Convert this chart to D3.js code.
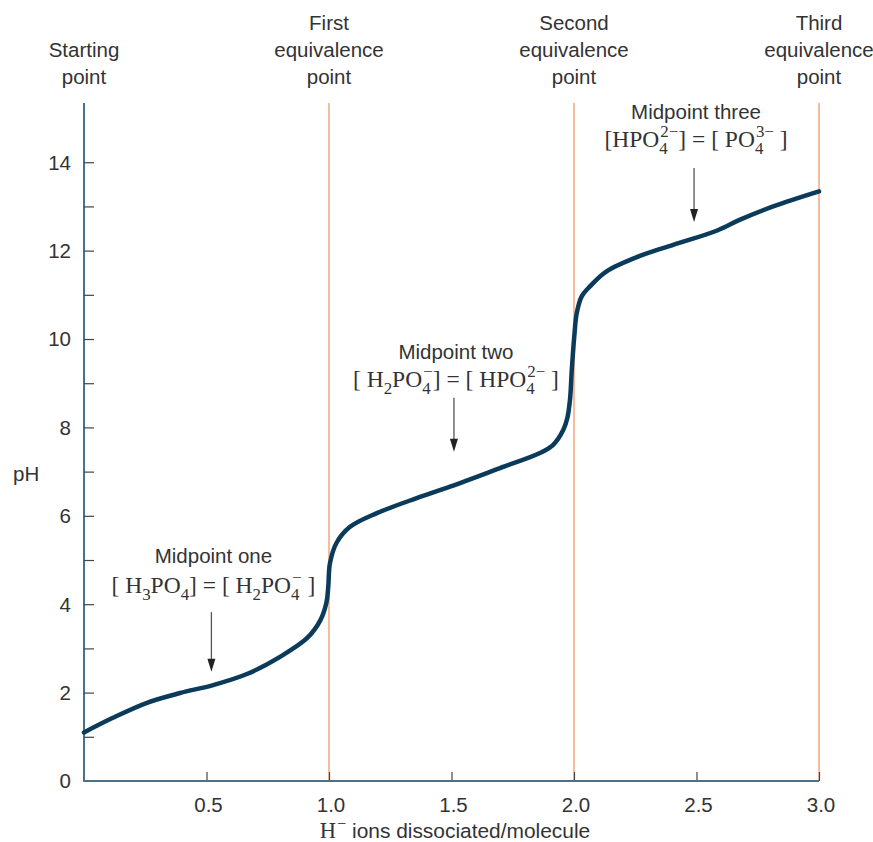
<!DOCTYPE html>
<html><head><meta charset="utf-8">
<script src="https://cdn.jsdelivr.net/npm/d3@7"></script>
<style>body{margin:0;background:#fff;} svg{display:block;}</style>
</head><body>
<svg id="chart" width="873" height="842"></svg>
<script>
// ---- data ----
const dissociated = [0, 0.118, 0.257, 0.392, 0.527, 0.665, 0.800, 0.910, 0.965, 0.990,
  0.997, 1.004, 1.031, 1.086, 1.195, 1.358, 1.494, 1.698, 1.861, 1.914,
  1.956, 1.973, 1.984, 1.991, 2.001, 2.011, 2.031, 2.065, 2.133, 2.269,
  2.405, 2.582, 2.678, 2.813, 3.0];
const pH = [1.1, 1.43, 1.77, 1.99, 2.17, 2.42, 2.81, 3.23, 3.64, 4.05,
  4.4, 4.93, 5.39, 5.75, 6.06, 6.4, 6.66, 7.08, 7.42, 7.6,
  7.94, 8.22, 8.65, 9.3, 10.05, 10.58, 10.96, 11.19, 11.53, 11.88,
  12.13, 12.45, 12.7, 13.0, 13.34];
const equivalencePoints = [1, 2, 3];
const topLabels = [["Starting", "point"], ["First", "equivalence", "point"], ["Second", "equivalence", "point"], ["Third", "equivalence", "point"]];
const topLabelX = [0, 1, 2, 3];
const xTickValues = [0.5, 1.0, 1.5, 2.0, 2.5, 3.0];
const yTickValues = [1, 2, 3, 4, 5, 6, 7, 8, 9, 10, 11, 12, 13, 14];
const yLabelValues = [0, 2, 4, 6, 8, 10, 12, 14];
const midpointTitles = ["Midpoint one", "Midpoint two", "Midpoint three"];
const midpointX = [0.52, 1.51, 2.49];
const arrowFromPH = [3.82, 8.67, 13.87];
const arrowToPH = [2.47, 7.45, 12.65];
const titlePH = [4.93, 9.55, 14.98];
const formulaPH = [4.25, 8.92, 14.35];
const formulas = [
  [{n:"[ H"},{sub:"3"},{n:"PO"},{sub:"4"},{n:"] = [ H"},{sub:"2"},{n:"PO"},{sub:"4",sup:"−"},{n:" ]"}],
  [{n:"[ H"},{sub:"2"},{n:"PO"},{sub:"4",sup:"−"},{n:"] = [ HPO"},{sub:"4",sup:"2−"},{n:" ]"}],
  [{n:"[HPO"},{sub:"4",sup:"2−"},{n:"] = [ PO"},{sub:"4",sup:"3−"},{n:" ]"}]
];
const xTitle = [{n:"H", fam:"serif"},{sup:"−", fam:"serif"},{n:" ions dissociated/molecule", fam:"sans"}];
const yTitle = "pH";

// ---- setup ----
const SANS = "'Liberation Sans', Arial, sans-serif";
const SERIF = "'Liberation Serif', 'Times New Roman', serif";
const svg = d3.select("#chart");
const x = d3.scaleLinear().domain([0, 3]).range([84, 819]);
const y = d3.scaleLinear().domain([0, 15.34]).range([781, 103]);

// equivalence lines
svg.append("g").selectAll("line").data(equivalencePoints).join("line")
  .attr("x1", d => x(d)).attr("x2", d => x(d))
  .attr("y1", y(15.34)).attr("y2", y(0))
  .attr("stroke", "#f4a67c").attr("stroke-width", 1.5);

// y axis
const yAxis = d3.axisRight(y).tickValues(yTickValues).tickSize(10).tickFormat("");
const gy = svg.append("g").attr("transform", `translate(${x(0)},0)`).call(yAxis);
gy.select(".domain").remove();
gy.selectAll(".tick line").attr("stroke", "#444").attr("stroke-width", 1.2);
svg.append("line").attr("x1", x(0)).attr("x2", x(0)).attr("y1", y(15.34)).attr("y2", y(0))
  .attr("stroke", "#1f4d6e").attr("stroke-width", 1.6);
svg.append("g").selectAll("text").data(yLabelValues).join("text")
  .attr("x", 71).attr("y", d => y(d)).attr("dy", "0.36em")
  .attr("text-anchor", "end").attr("font-family", SANS).attr("font-size", 20.5).attr("fill", "#333")
  .text(d => d);

// x axis
const xAxis = d3.axisTop(x).tickValues(xTickValues).tickSize(9).tickFormat("");
const gx = svg.append("g").attr("transform", `translate(0,${y(0)})`).call(xAxis);
gx.select(".domain").remove();
gx.selectAll(".tick line").attr("stroke", "#444").attr("stroke-width", 1.2);
svg.append("line").attr("x1", x(0) - 0.8).attr("x2", x(3)).attr("y1", y(0)).attr("y2", y(0))
  .attr("stroke", "#4f6f86").attr("stroke-width", 1.8);
svg.append("g").selectAll("text").data(xTickValues).join("text")
  .attr("x", d => x(d) + 2).attr("y", 812)
  .attr("text-anchor", "middle").attr("font-family", SANS).attr("font-size", 20.5).attr("fill", "#333")
  .text(d => d3.format(".1f")(d));

// top labels
topLabels.forEach((lines, i) => {
  const n = lines.length;
  lines.forEach((s, j) => {
    svg.append("text").attr("x", x(topLabelX[i])).attr("y", 84 - (n - 1 - j) * 27)
      .attr("text-anchor", "middle").attr("font-family", SANS).attr("font-size", 20.5).attr("fill", "#333")
      .text(s);
  });
});

// curve
const pts = dissociated.map((d, i) => [d, pH[i]]);
svg.append("path").datum(pts)
  .attr("d", d3.line().x(d => x(d[0])).y(d => y(d[1])).curve(d3.curveCatmullRom.alpha(0.5)))
  .attr("fill", "none").attr("stroke", "#0b3b5a").attr("stroke-width", 4.5)
  .attr("stroke-linecap", "round");

// math label helper
function mathLabel(parent, cx, baseline, pieces, size, fill) {
  const g = parent.append("g").attr("fill", fill);
  let xp = 0;
  const famOf = p => (p.fam === "sans" ? SANS : SERIF);
  const sizeOf = p => (p.fam === "sans" ? size * 0.93 : size);
  pieces.forEach(p => {
    if (p.n !== undefined) {
      const t = g.append("text").attr("x", xp).attr("y", 0).attr("font-family", famOf(p))
        .attr("font-size", sizeOf(p)).attr("xml:space", "preserve").style("white-space", "pre").text(p.n);
      xp += t.node().getComputedTextLength();
    } else {
      let w = 0;
      if (p.sub) {
        const t = g.append("text").attr("x", xp).attr("y", size * 0.3).attr("font-family", famOf(p))
          .attr("font-size", size * 0.72).text(p.sub);
        w = Math.max(w, t.node().getComputedTextLength());
      }
      if (p.sup) {
        const t = g.append("text").attr("x", xp + 1).attr("y", -size * 0.42).attr("font-family", famOf(p))
          .attr("font-size", size * 0.72).text(p.sup);
        w = Math.max(w, t.node().getComputedTextLength() + 1);
      }
      xp += w;
    }
  });
  g.attr("transform", `translate(${cx - xp / 2},${baseline})`);
  return g;
}

// annotations
midpointTitles.forEach((t, i) => {
  const cx = x(midpointX[i]);
  svg.append("text").attr("x", cx + 2).attr("y", y(titlePH[i]))
    .attr("text-anchor", "middle").attr("font-family", SANS).attr("font-size", 20.5).attr("fill", "#333").text(t);
  mathLabel(svg, cx + 2, y(formulaPH[i]), formulas[i], 23.5, "#333");
  svg.append("line").attr("x1", cx).attr("x2", cx)
    .attr("y1", y(arrowFromPH[i])).attr("y2", y(arrowToPH[i]) - 12)
    .attr("stroke", "#555").attr("stroke-width", 1.3);
  svg.append("path")
    .attr("d", `M${cx - 4},${y(arrowToPH[i]) - 13} L${cx + 4},${y(arrowToPH[i]) - 13} L${cx},${y(arrowToPH[i])} Z`)
    .attr("fill", "#222");
});

// axis titles
mathLabel(svg, 455, 838, xTitle, 22.5, "#333");
svg.append("text").attr("x", 13).attr("y", 481).attr("font-family", SANS).attr("font-size", 20.5)
  .attr("fill", "#333").text(yTitle);
</script>
</body></html>
